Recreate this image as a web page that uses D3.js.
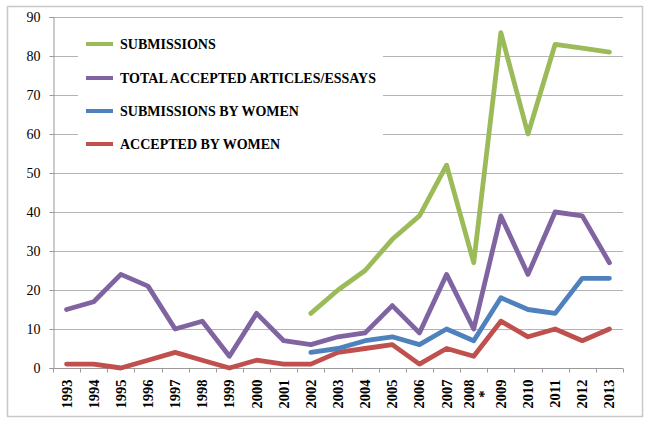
<!DOCTYPE html>
<html>
<head>
<meta charset="utf-8">
<script src="https://cdn.jsdelivr.net/npm/d3@7"></script>
<style>
  body { margin: 0; background: #fff; }
  text { font-family: "Liberation Serif", "Times New Roman", serif; }
</style>
</head>
<body>
<svg id="chart" width="650" height="425"></svg>
<script>
// data
const years = ["1993","1994","1995","1996","1997","1998","1999","2000","2001","2002","2003",
               "2004","2005","2006","2007","2008*","2009","2010","2011","2012","2013"];
const submissions      = [null,null,null,null,null,null,null,null,null,14,20,25,33,39,52,27,86,60,83,82,81];
const totalAccepted    = [15,17,24,21,10,12,3,14,7,6,8,9,16,9,24,10,39,24,40,39,27];
const submissionsWomen = [null,null,null,null,null,null,null,null,null,4,5,7,8,6,10,7,18,15,14,23,23];
const acceptedWomen    = [1,1,0,2,4,2,0,2,1,1,4,5,6,1,5,3,12,8,10,7,10];
const yTicks = [0,10,20,30,40,50,60,70,80,90];

const seriesNames = ["SUBMISSIONS","TOTAL ACCEPTED ARTICLES/ESSAYS","SUBMISSIONS BY WOMEN","ACCEPTED BY WOMEN"];
const seriesColors = ["#9BBB59","#8064A2","#4F81BD","#C0504D"];
const seriesValues = [submissions, totalAccepted, submissionsWomen, acceptedWomen];

var svg = d3.select("#chart"),
    margin = { top: 17, right: 27, bottom: 57, left: 53 },
    chartRight = 650 - margin.right,
    chartBottom = 425 - margin.bottom;

// outer frame
svg.append("rect")
  .attr("x", 7.5).attr("y", 6.5)
  .attr("width", 635).attr("height", 410)
  .attr("fill", "#fff")
  .attr("stroke", "#c8c8c8")
  .attr("stroke-width", 1.5);

const x = d3.scaleBand()
    .domain(years)
    .range([margin.left, chartRight]);

const y = d3.scaleLinear()
    .domain([0, 90])
    .range([chartBottom, margin.top]);

// gridlines
svg.append("g")
  .selectAll("line")
  .data(yTicks.slice(1))
  .enter().append("line")
    .attr("x1", margin.left).attr("x2", chartRight)
    .attr("y1", d => Math.round(y(d)) + 0.5)
    .attr("y2", d => Math.round(y(d)) + 0.5)
    .attr("stroke", "#b3b3b3")
    .attr("stroke-width", 1);

// y axis
const yAxis = svg.append("g")
  .attr("transform", "translate(" + (margin.left + 0.5) + ",0)")
  .call(d3.axisLeft(y).tickValues(yTicks).tickSize(4).tickPadding(9));
yAxis.select(".domain").attr("stroke", "#999");
yAxis.selectAll(".tick line").attr("stroke", "#999");
yAxis.selectAll("text")
  .attr("font-size", 14)
  .attr("fill", "#000")
  .style("font-family", "'Liberation Serif', serif");

// x axis, ticks on band boundaries
const xAxisG = svg.append("g")
  .attr("transform", "translate(0," + (chartBottom + 0.5) + ")");
xAxisG.append("line")
  .attr("x1", margin.left).attr("x2", chartRight)
  .attr("stroke", "#999");
xAxisG.selectAll(".bound")
  .data(years.concat(["end"]))
  .enter().append("line")
    .attr("class", "bound")
    .attr("x1", (d, i) => Math.round(margin.left + i * x.bandwidth()) + 0.5)
    .attr("x2", (d, i) => Math.round(margin.left + i * x.bandwidth()) + 0.5)
    .attr("y1", 0).attr("y2", 4)
    .attr("stroke", "#999");

// rotated year labels
const labels = xAxisG.selectAll(".lbl")
  .data(years)
  .enter().append("text")
    .attr("class", "lbl")
    .attr("transform", d => "translate(" + (x(d) + x.bandwidth() / 2 + 5) + ",11) rotate(-90)")
    .attr("text-anchor", "end")
    .attr("font-size", 14.5)
    .attr("font-weight", "bold")
    .attr("fill", "#000");
labels.each(function(d) {
  const t = d3.select(this);
  if (d.endsWith("*")) {
    t.attr("transform", "translate(" + (x(d) + x.bandwidth() / 2) + ",11) rotate(-90)");
    t.append("tspan").attr("x", 0).attr("dy", 0).text(d.slice(0, -1));
    t.append("tspan").attr("x", -11).attr("dy", 15).text("*");
  } else {
    t.text(d);
  }
});

// lines
const line = d3.line()
    .defined(d => d.v !== null)
    .x(d => x(d.year) + x.bandwidth() / 2)
    .y(d => y(d.v));

[1, 3, 2, 0].forEach(function(i) {
  const pts = years.map((yr, j) => ({ year: yr, v: seriesValues[i][j] }));
  svg.append("path")
    .datum(pts)
    .attr("d", line)
    .attr("fill", "none")
    .attr("stroke", seriesColors[i])
    .attr("stroke-width", 4.8)
    .attr("stroke-linejoin", "round")
    .attr("stroke-linecap", "round");
});

// legend
const legend = svg.append("g");
legend.append("rect")
  .attr("x", 78).attr("y", 22)
  .attr("width", 305).attr("height", 138)
  .attr("fill", "#fff");
const legendY = [44, 78, 111, 144];
seriesNames.forEach(function(name, i) {
  legend.append("line")
    .attr("x1", 86).attr("x2", 113)
    .attr("y1", legendY[i]).attr("y2", legendY[i])
    .attr("stroke", seriesColors[i])
    .attr("stroke-width", 4);
  legend.append("text")
    .attr("x", 120).attr("y", legendY[i] + 5)
    .attr("font-size", 14)
    .attr("font-weight", "bold")
    .attr("fill", "#000")
    .text(name);
});
</script>
</body>
</html>
